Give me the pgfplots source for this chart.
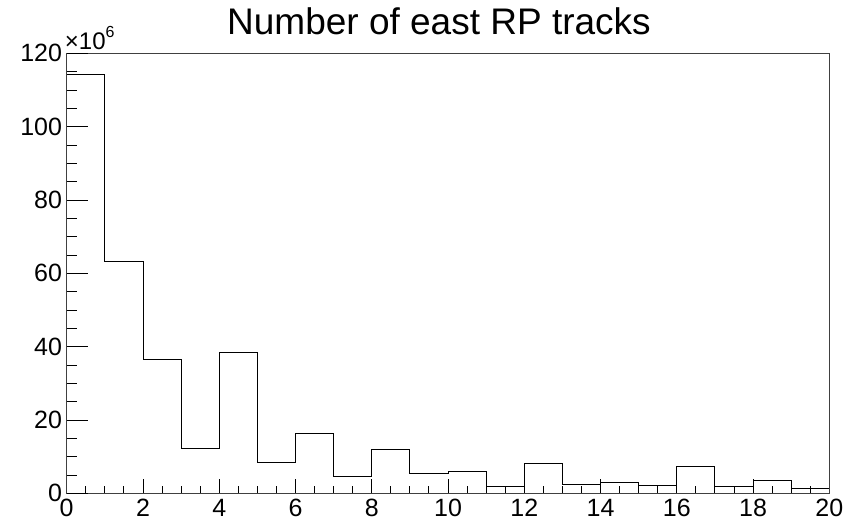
\documentclass[border=0pt]{standalone}
\usepackage{fontspec}
\setmainfont{Liberation Sans}
\usepackage{pgfplots}
\pgfplotsset{compat=1.18}
\pgfplotstableread{
x y
0 114.1
1 63.2
2 36.6
3 12.2
4 38.5
5 8.5
6 16.4
7 4.6
8 11.9
9 5.5
10 6.0
11 1.9
12 8.2
13 2.5
14 2.9
15 2.2
16 7.4
17 1.9
18 3.4
19 1.3
20 1.3
}\histdata
\begin{document}
\begin{tikzpicture}
\useasboundingbox (-66.7bp,-31.7bp) rectangle (781.3bp,493.3bp);
\begin{axis}[
  at={(0,0)}, anchor=south west,
  scale only axis, width=762.6bp, height=440bp,
  xmin=0, xmax=20, ymin=0, ymax=120,
  xtick={0,2,...,20}, ytick=\empty,
  minor x tick num=3,
  tick align=inside, tick pos=left,
  major tick length=14bp, minor tick length=7bp,
  /pgf/number format/assume math mode=true,
  xticklabel style={font=\fontsize{25bp}{29bp}\selectfont, anchor=north, inner sep=0pt, yshift=-6bp},
  axis line style={line width=0.9bp, black!75},
  tick style={line width=0.9bp, black},
  clip=false,
]
\addplot[const plot, black, line width=0.9bp] table[x=x,y=y] {\histdata};
\end{axis}
\begin{axis}[
  at={(0,0)}, anchor=south west,
  scale only axis, width=762.6bp, height=440bp,
  xmin=0, xmax=20, ymin=0, ymax=120,
  xtick=\empty, ytick={0,20,...,120},
  minor y tick num=3,
  tick align=inside, tick pos=left,
  major tick length=21.7bp, minor tick length=10.8bp,
  /pgf/number format/assume math mode=true,
  yticklabel style={font=\fontsize{25bp}{29bp}\selectfont, anchor=east, inner sep=0pt, xshift=-4.5bp},
  axis line style={draw=none},
  tick style={line width=0.9bp, black},
]
\end{axis}
\node[anchor=base west, inner sep=0pt, font=\fontsize{24bp}{28bp}\selectfont] at (-2bp,443.3bp) {×10\raisebox{0.5em}{\fontsize{16bp}{18bp}\selectfont 6}};
\node[anchor=base, inner sep=0pt, font=\fontsize{37bp}{43bp}\selectfont] at (372.3bp,458.3bp) {Number of east RP tracks};
\end{tikzpicture}
\end{document}
